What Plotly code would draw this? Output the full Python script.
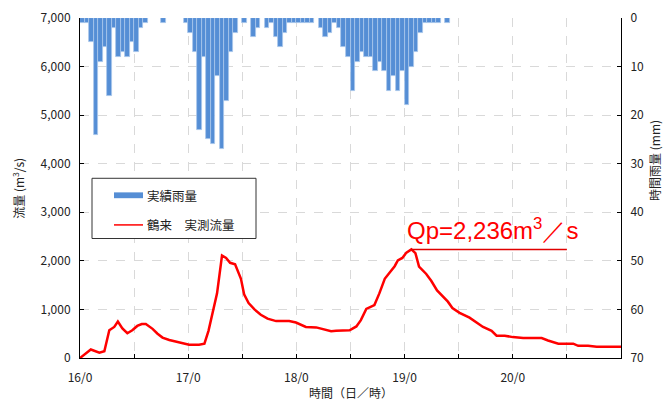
import plotly.graph_objects as go

# ---- data ----
# hourly rainfall (mm), hour index from 16/0
rain_hours = [0, 1, 2, 3, 4, 5, 6, 7, 8, 9, 10, 11, 12, 13, 14, 18, 23, 24, 25, 26, 27, 28, 29, 30,
              31, 32, 33, 34, 36, 38, 39, 41, 42, 43, 44, 45, 46, 47, 48, 49, 50, 51, 53, 54, 55, 56,
              57, 58, 59, 60, 61, 62, 63, 64, 65, 66, 67, 68, 69, 70, 71, 72, 73, 74, 75, 76, 77,
              78, 79, 81]
rain_mm = [1, 1, 5, 24, 9, 6, 16, 2, 8, 7, 8, 5, 7, 2, 1, 1, 1, 3, 7, 23, 8, 25, 26, 12,
           27, 17, 7, 3, 1, 4, 2, 2, 1, 4, 6, 3, 1, 1, 1, 1, 1, 1, 2, 4, 3, 1,
           2, 6, 8, 15, 9, 7, 8, 8, 11, 9, 11, 15, 12, 15, 11, 18, 10, 7, 3, 1, 1,
           1, 1, 1]

# observed discharge at Tsurugi (m3/s)
flow_hours = [0, 2.4, 4.3, 5.4, 6.5, 7.6, 8.4, 9.4, 10.5, 11.6, 12.7, 13.7, 14.6, 16.1, 17.2, 18.3,
              19.8, 21.2, 22.7, 24.2, 26.4, 27.6, 28.5, 29.6, 30.4, 31.5, 32.4, 33.3, 34.4, 35.7,
              36.4, 37.4, 38.7, 40.1, 41.6, 43.5, 46.4, 47.9, 50.1, 52.4, 53.8, 55.7, 56.8, 59.8,
              61.3, 62.3, 63.5, 65.3, 66.4, 67.6, 68.7, 69.8, 70.5, 71.5, 72.4, 73.5, 74.4, 75.2,
              76.8, 77.9, 79.2, 80.5, 81.6, 82.6, 84.2, 86.4, 87.9, 89.4, 91.3, 92.4, 94.2, 96.0,
              98.3, 102.4, 103.8, 106.1, 109.4, 110.5, 112.7, 114.6, 120.0]
flow_m3s = [0, 175, 110, 140, 570, 640, 750, 610, 510, 570, 660, 700, 700, 600, 500, 420,
            370, 340, 300, 275, 275, 295, 560, 1030, 1330, 2110, 2060, 1960, 1930, 1630,
            1310, 1130, 1000, 890, 810, 760, 760, 730, 640, 630, 590, 550, 560, 570,
            650, 780, 1010, 1090, 1330, 1630, 1760, 1890, 2010, 2060, 2170, 2236, 2160, 1880,
            1730, 1590, 1390, 1260, 1160, 1030, 930, 830, 730, 640, 560, 460, 460, 430,
            410, 410, 360, 295, 295, 250, 250, 230, 230]

x_tickvals = [0, 24, 48, 72, 96]
x_ticktext = ["16/0", "17/0", "18/0", "19/0", "20/0"]
x_minor_vals = [12, 36, 60, 84, 108]
y_tickvals = [0, 1000, 2000, 3000, 4000, 5000, 6000, 7000]
y_ticktext = ["0", "1,000", "2,000", "3,000", "4,000", "5,000", "6,000", "7,000"]
y2_tickvals = [0, 10, 20, 30, 40, 50, 60, 70]
peak_line_end = 108

FONT = "Noto Sans CJK JP, Noto Sans, sans-serif"
BLUE = "rgb(85,142,213)"
RED = "#FF0000"
GRID = "#d9d9d9"

fig = go.Figure()
fig.add_trace(go.Bar(
    x=[h + 0.5 for h in rain_hours], y=rain_mm, width=1, yaxis="y2",
    marker=dict(color=BLUE, line=dict(color="rgb(170,198,235)", width=0.8)),
    name="実績雨量", showlegend=False))
fig.add_trace(go.Scatter(
    x=flow_hours, y=flow_m3s, mode="lines", line=dict(color=RED, width=2.5),
    name="鶴来　実測流量", showlegend=False))

peak_v = max(flow_m3s)
peak_h = flow_hours[flow_m3s.index(peak_v)]

shapes = [
    dict(type="line", xref="x", yref="y", x0=peak_h, x1=peak_line_end, y0=peak_v, y1=peak_v,
         line=dict(color="#E00000", width=1.5)),
    # legend box
    dict(type="rect", xref="paper", yref="paper",
         x0=(92 - 80) / 541, x1=(256 - 80) / 541, y0=(358 - 235) / 350, y1=(358 - 173) / 350,
         line=dict(color="#333333", width=1), fillcolor="white", layer="above"),
    dict(type="rect", xref="paper", yref="paper",
         x0=(114 - 80) / 541, x1=(143 - 80) / 541, y0=(358 - 193.5) / 350, y1=(358 - 187.5) / 350,
         line=dict(width=0), fillcolor=BLUE, layer="above"),
    dict(type="line", xref="paper", yref="paper",
         x0=(114 - 80) / 541, x1=(143 - 80) / 541, y0=(358 - 221) / 350, y1=(358 - 221) / 350,
         line=dict(color=RED, width=1.5), layer="above"),
]

annotations = [
    dict(text="Qp=2,236m<sup>3</sup>／s", xref="x", yref="y", x=91.5, y=2650,
         showarrow=False, font=dict(family="Liberation Sans, Arial", size=24, color=RED)),
    dict(text="実績雨量", xref="paper", yref="paper", x=(145 - 80) / 541, y=(358 - 190.5) / 350,
         xanchor="left", yanchor="middle", showarrow=False, font=dict(family=FONT, size=12.5, color="#222")),
    dict(text="鶴来　実測流量", xref="paper", yref="paper", x=(145 - 80) / 541, y=(358 - 221) / 350,
         xanchor="left", yanchor="middle", showarrow=False, font=dict(family=FONT, size=12.5, color="#222")),
    dict(text="流量 (m<sup>3</sup>/s)", xref="paper", yref="paper", x=-0.115, y=0.5,
         xanchor="center", yanchor="middle", textangle=-90, showarrow=False,
         font=dict(family=FONT, size=12, color="#222")),
    dict(text="時間雨量 (mm)", xref="paper", yref="paper", x=1.063, y=(358 - 155) / 350,
         xanchor="center", yanchor="middle", textangle=-90, showarrow=False,
         font=dict(family=FONT, size=12, color="#222")),
    dict(text="時間（日／時）", xref="paper", yref="paper", x=0.5, y=-(393 - 358) / 350,
         xanchor="center", yanchor="middle", showarrow=False,
         font=dict(family=FONT, size=12, color="#222")),
]

grid = dict(showgrid=True, gridcolor=GRID, griddash="dash", gridwidth=1)

fig.update_layout(
    width=667, height=402,
    margin=dict(l=80, r=46, t=8, b=44),
    paper_bgcolor="white", plot_bgcolor="white",
    font=dict(family=FONT, size=12, color="#222"),
    bargap=0,
    showlegend=False,
    xaxis=dict(range=[0, 120], tickmode="array", tickvals=x_tickvals, ticktext=x_ticktext,
               showline=True, linecolor="black", linewidth=1, ticks="inside", ticklen=4,
               tickcolor="black", zeroline=False, ticklabelstandoff=9,
               ticklabeloverflow="allow",
               minor=dict(tickmode="array", tickvals=x_minor_vals, showgrid=True, gridcolor=GRID,
                          griddash="dash", gridwidth=1, ticks="inside", ticklen=4, tickcolor="black"),
               **grid),
    yaxis=dict(range=[0, 7000], tickmode="array", tickvals=y_tickvals, ticktext=y_ticktext,
               showline=True, linecolor="black", linewidth=1, ticks="inside", ticklen=4,
               tickcolor="black", zeroline=False, ticklabelstandoff=6,
               ticklabeloverflow="allow", **grid),
    yaxis2=dict(range=[70, 0], overlaying="y", side="right", tickmode="array", tickvals=y2_tickvals,
                showline=True, linecolor="black", linewidth=1, ticks="inside", ticklen=4,
                tickcolor="black", showgrid=False, zeroline=False, ticklabelstandoff=6,
                ticklabeloverflow="allow"),
    shapes=shapes,
    annotations=annotations,
)

fig.write_html("out.html")
